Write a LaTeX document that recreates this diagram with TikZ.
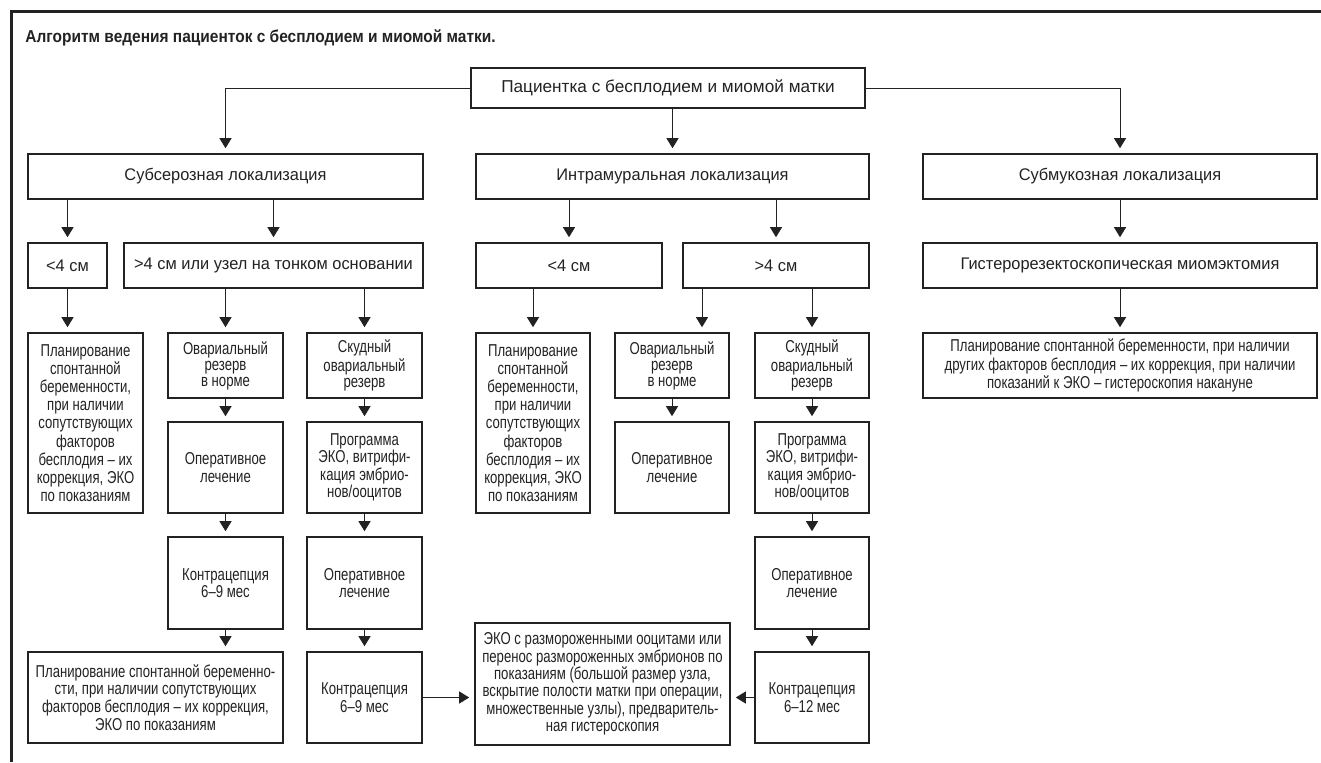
\documentclass[tikz,border=0pt]{standalone}
\usepackage{fontspec}
\setmainfont{Liberation Sans}
\newfontfamily\cond{Liberation Sans}[FakeStretch=0.765]
\newfontfamily\titlef{Liberation Sans}[FakeStretch=0.9]
\newfontfamily\bigf{Liberation Sans}[FakeStretch=0.975]
\usetikzlibrary{arrows.meta}
\definecolor{ink}{HTML}{222222}
\begin{document}
\begin{tikzpicture}[x=0.5pt,y=-0.5pt,
  box/.style={draw=ink,line width=0.8pt,inner sep=0pt,text=ink,align=center,
    font=\bigf\fontsize{8.4}{9}\selectfont},
  cbox/.style={box,font=\cond\fontsize{8.6}{8.75}\selectfont},
  lead/.style={font=\cond\fontsize{8.6}{#1}\selectfont},
  arr/.style={draw=ink,line width=0.5pt,-{Triangle[width=6pt,length=5pt]},shorten >=2.5pt}]
\useasboundingbox (0,0) rectangle (1321,762);
\draw[ink,line width=1.5pt] (11,762) -- (11,11) -- (1321,11);
\node[anchor=base west,inner sep=0pt,text=ink,font=\titlef\bfseries\fontsize{8.6}{9}\selectfont] (title) at (25,42) {Алгоритм ведения пациенток с бесплодием и миомой матки.};
% level 1-3
\node[box,minimum width=197pt,minimum height=20pt,font=\fontsize{8.6}{9}\selectfont] (root) at (668,88) {Пациентка с бесплодием и миомой матки};
\node[box,minimum width=197.5pt,minimum height=22.5pt] (sub) at (225.5,176.5) {Субсерозная локализация};
\node[box,minimum width=196.5pt,minimum height=22.5pt] (intra) at (672.5,176.5) {Интрамуральная локализация};
\node[box,minimum width=197pt,minimum height=22.5pt] (subm) at (1120,176.5) {Субмукозная локализация};
\node[box,minimum width=39.5pt,minimum height=22.5pt] (slt) at (67.5,265.5) {<4 см};
\node[box,minimum width=149.5pt,minimum height=22.5pt] (sgt) at (273.5,265.5) {>4 см или узел на тонком основании};
\node[box,minimum width=93pt,minimum height=22.5pt] (ilt) at (569,265.5) {<4 см};
\node[box,minimum width=93pt,minimum height=22.5pt] (igt) at (776,265.5) {>4 см};
\node[box,minimum width=197pt,minimum height=22.5pt] (hyst) at (1120,265.5) {Гистерорезектоскопическая миомэктомия};
% subserous column
\node[cbox,lead=9.1,minimum width=57.5pt,minimum height=90pt] (splan) at (85.5,423) {Планирование\\спонтанной\\беременности,\\при наличии\\сопутствующих\\факторов\\бесплодия – их\\коррекция, ЭКО\\по показаниям};
\node[cbox,lead=8,minimum width=57.5pt,minimum height=32.5pt] (sov) at (225.5,365.5) {Овариальный\\резерв\\в норме};
\node[cbox,minimum width=57.5pt,minimum height=45.5pt] (sop) at (225.5,467.5) {Оперативное\\лечение};
\node[cbox,lead=8,minimum width=57.5pt,minimum height=32.5pt] (ssk) at (364.5,365.5) {Скудный\\овариальный\\резерв};
\node[cbox,minimum width=57.5pt,minimum height=45.5pt] (seko) at (364.5,467.5) {Программа\\ЭКО, витрифи-\\кация эмбрио-\\нов/ооцитов};
\node[cbox,minimum width=57.5pt,minimum height=46pt] (sk69) at (225.5,583) {Контрацепция\\6–9 мес};
\node[cbox,minimum width=57.5pt,minimum height=46pt] (sop2) at (364.5,583) {Оперативное\\лечение};
\node[cbox,lead=8.85,minimum width=127.5pt,minimum height=45.5pt] (splan2) at (155.5,697.5) {Планирование спонтанной беременно-\\сти, при наличии сопутствующих\\факторов бесплодия – их коррекция,\\ЭКО по показаниям};
\node[cbox,minimum width=57.5pt,minimum height=45.5pt] (sk69b) at (364.5,697.5) {Контрацепция\\6–9 мес};
% intramural column
\node[cbox,lead=9.1,minimum width=57pt,minimum height=90pt] (iplan) at (533,423) {Планирование\\спонтанной\\беременности,\\при наличии\\сопутствующих\\факторов\\бесплодия – их\\коррекция, ЭКО\\по показаниям};
\node[cbox,lead=8,minimum width=57pt,minimum height=32.5pt] (iov) at (672,365.5) {Овариальный\\резерв\\в норме};
\node[cbox,minimum width=57pt,minimum height=45.5pt] (iop) at (672,467.5) {Оперативное\\лечение};
\node[cbox,lead=8,minimum width=57pt,minimum height=32.5pt] (isk) at (812,365.5) {Скудный\\овариальный\\резерв};
\node[cbox,minimum width=57pt,minimum height=45.5pt] (ieko) at (812,467.5) {Программа\\ЭКО, витрифи-\\кация эмбрио-\\нов/ооцитов};
\node[cbox,minimum width=57pt,minimum height=46pt] (iop2) at (812,583) {Оперативное\\лечение};
\node[cbox,minimum width=57pt,minimum height=45.5pt] (ik612) at (812,697.5) {Контрацепция\\6–12 мес};
\node[cbox,lead=8.65,minimum width=127.5pt,minimum height=61pt] (eko) at (602.5,684) {ЭКО с размороженными ооцитами или\\перенос размороженных эмбрионов по\\показаниям (большой размер узла,\\вскрытие полости матки при операции,\\множественные узлы), предваритель-\\ная гистероскопия};
% submucous
\node[cbox,lead=7.85,minimum width=197pt,minimum height=32.5pt] (rplan) at (1120,365.5) {Планирование спонтанной беременности, при наличии\\других факторов бесплодия – их коррекция, при наличии\\показаний к ЭКО – гистероскопия накануне};
% helper x coordinate
\coordinate (xa) at (702,0);
% connectors
\draw[arr] (root.west) -| (sub.north);
\draw[arr] (root.south -| intra.north) -- (intra.north);
\draw[arr] (root.east) -| (subm.north);
\draw[arr] (sub.south -| slt.north) -- (slt.north);
\draw[arr] (sub.south -| sgt.north) -- (sgt.north);
\draw[arr] (intra.south -| ilt.north) -- (ilt.north);
\draw[arr] (intra.south -| igt.north) -- (igt.north);
\draw[arr] (subm.south) -- (hyst.north);
\draw[arr] (hyst.south) -- (rplan.north);
\draw[arr] (slt.south) -- (slt.south |- splan.north);
\draw[arr] (sgt.south -| sov.north) -- (sov.north);
\draw[arr] (sgt.south -| ssk.north) -- (ssk.north);
\draw[arr] (ilt.south -| iplan.north) -- (iplan.north);
\draw[arr] (igt.south -| xa) -- (iov.north -| xa);
\draw[arr] (igt.south -| isk.north) -- (isk.north);
\draw[arr] (sov.south) -- (sop.north);
\draw[arr] (sop.south) -- (sk69.north);
\draw[arr] (sk69.south) -- (sk69.south |- splan2.north);
\draw[arr] (ssk.south) -- (seko.north);
\draw[arr] (seko.south) -- (sop2.north);
\draw[arr] (sop2.south) -- (sk69b.north);
\draw[arr] (iov.south) -- (iop.north);
\draw[arr] (isk.south) -- (ieko.north);
\draw[arr] (ieko.south) -- (iop2.north);
\draw[arr] (iop2.south) -- (ik612.north);
\draw[arr] (sk69b.east) -- (sk69b.east -| eko.west);
\draw[arr] (ik612.west) -- (ik612.west -| eko.east);
\end{tikzpicture}
\end{document}
